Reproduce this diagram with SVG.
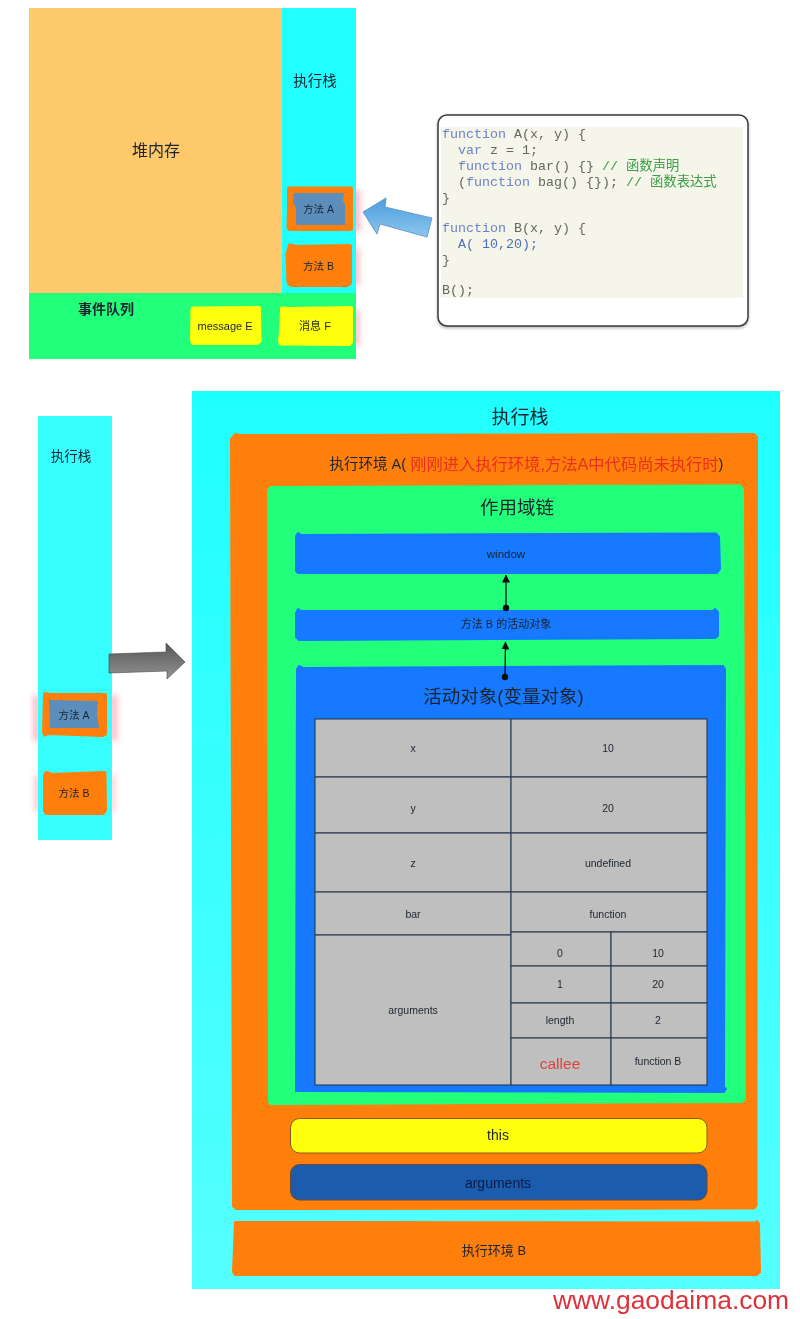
<svg xmlns="http://www.w3.org/2000/svg" width="800" height="1319" viewBox="0 0 800 1319">
<style>
text{font-family:"Liberation Sans","Noto Sans CJK SC",sans-serif;text-anchor:middle;dominant-baseline:central;fill:#1c2430}
.or{fill:#ff7f0a;stroke:#ff7f0a}.gr{fill:#22ff7a;stroke:#22ff7a}.bl{fill:#1279ff;stroke:#1279ff}.ye{fill:#ffff0e;stroke:#ffff0e}.st{fill:#5b8ebc}
.rnd{stroke-width:4;stroke-linejoin:round}
.big{stroke-width:2;stroke-linejoin:round}
.cell{fill:#bfbfbf;stroke:#2a3a50;stroke-width:1.1}
.gl{fill:#ff7080;opacity:.5;filter:url(#glow)}
.s10{font-size:10.5px}
.code{font-family:"Liberation Mono","Noto Sans CJK SC",monospace;font-size:13.33px;text-anchor:start;dominant-baseline:auto;fill:#666}
.kw{fill:#6a84c4}.cm{fill:#3aa046}.nm{fill:#4a70b8}
.red{fill:#e8301a}.wm{fill:#e0303a}.callee{fill:#e2403a}.navy{fill:#0a1c48}
.conn{stroke:#111;stroke-width:1.3;fill:none;marker-end:url(#ah)}
</style>
<defs>
<filter id="soft" x="0" y="0" width="100%" height="100%"><feGaussianBlur stdDeviation="0.45"/></filter>
<filter id="glow" x="-300%" y="-50%" width="700%" height="200%"><feGaussianBlur stdDeviation="3"/></filter>
<filter id="sh" x="-5%" y="-5%" width="110%" height="110%"><feDropShadow dx="0" dy="1.5" stdDeviation="1.5" flood-color="#000" flood-opacity=".3"/></filter>
<linearGradient id="ba" x1="0" y1="0" x2="0" y2="1"><stop offset="0" stop-color="#4a9ddc"/><stop offset="1" stop-color="#8fc6ee"/></linearGradient>
<linearGradient id="ga" x1="0" y1="0" x2="0" y2="1"><stop offset="0" stop-color="#565656"/><stop offset="1" stop-color="#939393"/></linearGradient>
<linearGradient id="cy" x1="0" y1="0" x2="0" y2="1"><stop offset="0" stop-color="#1fffff"/><stop offset="1" stop-color="#55ffff"/></linearGradient>
<marker id="ah" markerUnits="userSpaceOnUse" markerWidth="8" markerHeight="11" refX="7.5" refY="4" orient="auto"><path d="M0 0L8 4L0 8Z" fill="#111"/></marker>
</defs>
<rect width="800" height="1319" fill="#fff"/>
<g filter="url(#soft)">
<g id="glows">
<rect x="352" y="190" width="8" height="42" class="gl"/>
<rect x="352" y="248" width="7" height="38" class="gl"/>
<rect x="352" y="311" width="7" height="35" class="gl"/>
<rect x="33" y="695" width="7" height="46" class="gl"/><rect x="110" y="695" width="7" height="46" class="gl"/>
<rect x="35" y="775" width="5" height="37" class="gl"/><rect x="110" y="775" width="4" height="37" class="gl"/>
</g>
<g id="heap"><rect x="29" y="8" width="253" height="285" fill="#fdc96a"/><text x="156" y="150" font-size="16">堆内存</text></g>
<g id="stack-top"><rect x="282" y="8" width="74" height="285" fill="#22ffff"/><text x="315" y="81" font-size="14.5">执行栈</text></g>
<g id="queue"><rect x="29" y="293" width="327" height="66" fill="#22ff7a"/><text x="106" y="309" font-size="14" font-weight="bold">事件队列</text></g>
<g id="method-a-top">
<path class="or rnd" d="M289 188.500L351 188.500L351 229L290 229L288.500 228L289 205Z"/><path class="st" d="M294 193L344 193L343 201L345 205L345 225L296 225L296 208L293 203Z"/><text x="318.500" y="209" class="s10">方法 A</text></g>
<g id="method-b-top">
<path class="or rnd" d="M290 245.500L296 247L350 246L350 283L347 285L291 285L288.500 283L287.500 254Z"/><text x="318.500" y="266" class="s10">方法 B</text></g>
<g id="message-e"><path class="ye rnd" d="M192.500 308.500L259 308L259.500 341L257 343L193 343L192 340Z"/><text x="225" y="326" font-size="11">message E</text></g>
<g id="message-f">
<path class="ye rnd" d="M282 308.500L289 309L351 308L351 342L349 344L281 343.500L280 342L281.500 325Z"/><text x="315" y="326" font-size="11">消息 F</text></g>
<g id="code-box"><rect x="438" y="115" width="310" height="211" rx="9" fill="#fff" stroke="#3a3a3a" stroke-width="1.500" filter="url(#sh)"/>
<rect x="441" y="127" width="302" height="171" fill="#f5f5e9"/>
<text class="code" x="442" y="138" xml:space="preserve"><tspan class="kw">function</tspan> A(x, y) {</text>
<text class="code" x="442" y="154" xml:space="preserve">  <tspan class="kw">var</tspan> z = 1;</text>
<text class="code" x="442" y="170" xml:space="preserve">  <tspan class="kw">function</tspan> bar() {} <tspan class="cm">// 函数声明</tspan></text>
<text class="code" x="442" y="186" xml:space="preserve">  (<tspan class="kw">function</tspan> bag() {}); <tspan class="cm">// 函数表达式</tspan></text>
<text class="code" x="442" y="202">}</text>
<text class="code" x="442" y="232" xml:space="preserve"><tspan class="kw">function</tspan> B(x, y) {</text>
<text class="code" x="442" y="248" xml:space="preserve">  <tspan class="nm">A( 10,20);</tspan></text>
<text class="code" x="442" y="264">}</text>
<text class="code" x="442" y="294">B();</text></g>
<g id="stack-left"><rect x="38" y="416" width="74" height="424" fill="#38ffff"/><text x="71" y="456" font-size="13.500">执行栈</text></g>
<g id="method-a-left">
<path class="or rnd" d="M45 694L50 695L105 695L105 734L103 735L48 733L45 734.500L44 732Z"/><path class="st" d="M49 700L98 701L97 713L99 728L50 728Z"/><text x="74" y="715" class="s10">方法 A</text></g>
<g id="method-b-left">
<path class="or rnd" d="M46.500 773L52 775L104.500 773L105 810L103 813L46.500 813L45 811L45 775Z"/><text x="74" y="793" class="s10">方法 B</text></g>
<g id="stack-main"><rect x="192" y="391" width="588" height="898" fill="url(#cy)"/><text x="520" y="417" font-size="19">执行栈</text></g>
<g id="env-a"><path class="or big" d="M235 434L240 435L754 434L757 437L756.500 1206L754 1208.500L236 1209L233 1206L231 439Z"/>
<text x="526.500" y="464" font-size="14.500">执行环境 A( <tspan class="red" font-size="16.300">刚刚进入执行环境,方法A中代码尚未执行时</tspan>)</text></g>
<g id="scope-chain"><path class="gr big" d="M271 487L740 485.500L743 489L745 1099L742 1102L271 1104L269 1102L268 490Z"/><text x="517" y="507" font-size="18.500">作用域链</text></g>
<g id="window"><path class="bl big" d="M298 533L301 535L716 533.500L719 537L720 569L717 573L298 573L296 571L296 536Z"/><text x="506" y="554" font-size="11.500">window</text></g>
<g id="activation-b"><path class="bl big" d="M298 609L301 611L713 611L715 609L718 612L718 636L715 638L299 640L296 637L296 613Z"/><text x="506" y="624" font-size="11">方法 B 的活动对象</text></g>
<g id="activation-a"><path class="bl big" d="M299 666L303 668L723 666L725 669L724 1087L726 1089L724 1092L301 1091L296 1091L297 669Z"/><text x="503.500" y="696" font-size="18.500">活动对象(变量对象)</text></g>
<g id="var-table">
<rect class="cell" x="315" y="719" width="196" height="58"/><rect class="cell" x="511" y="719" width="196" height="58"/>
<rect class="cell" x="315" y="777" width="196" height="56"/><rect class="cell" x="511" y="777" width="196" height="56"/>
<rect class="cell" x="315" y="833" width="196" height="59"/><rect class="cell" x="511" y="833" width="196" height="59"/>
<rect class="cell" x="315" y="892" width="196" height="43"/><rect class="cell" x="511" y="892" width="196" height="40"/>
<rect class="cell" x="315" y="935" width="196" height="150"/>
<rect class="cell" x="511" y="932" width="100" height="34"/><rect class="cell" x="611" y="932" width="96" height="34"/>
<rect class="cell" x="511" y="966" width="100" height="37"/><rect class="cell" x="611" y="966" width="96" height="37"/>
<rect class="cell" x="511" y="1003" width="100" height="35"/><rect class="cell" x="611" y="1003" width="96" height="35"/>
<rect class="cell" x="511" y="1038" width="100" height="47"/><rect class="cell" x="611" y="1038" width="96" height="47"/>
<text class="s10" x="413" y="748">x</text><text class="s10" x="608" y="748">10</text>
<text class="s10" x="413" y="808">y</text><text class="s10" x="608" y="808">20</text>
<text class="s10" x="413" y="863">z</text><text class="s10" x="608" y="863">undefined</text>
<text class="s10" x="413" y="914">bar</text><text class="s10" x="608" y="914">function</text>
<text class="s10" x="413" y="1010">arguments</text>
<text class="s10" x="560" y="953">0</text><text class="s10" x="658" y="953">10</text>
<text class="s10" x="560" y="984">1</text><text class="s10" x="658" y="984">20</text>
<text class="s10" x="560" y="1020">length</text><text class="s10" x="658" y="1020">2</text>
<text class="callee" x="560" y="1063" font-size="15.500">callee</text><text class="s10" x="658" y="1061">function B</text>
</g>
<g id="this-bar"><rect x="290.500" y="1118.500" width="416.500" height="34.500" rx="9" fill="#ffff0e" stroke="#8a5a20"/><text x="498" y="1135" font-size="14">this</text></g>
<g id="arguments-bar"><rect x="290.500" y="1164.500" width="416.500" height="35.500" rx="9" fill="#1c5bac" stroke="#6a4a30"/><text class="navy" x="498" y="1183" font-size="14">arguments</text></g>
<g id="env-b"><path class="or big" d="M235 1222L755 1222.500L757 1221L759 1224L760 1272L757 1275L235 1275L233 1272Z"/><text x="494" y="1250" font-size="13">执行环境 B</text></g>
<g id="connectors">
<path d="M432 218L385 207L386 198L363 212L377 234L380 224L427 237Z" fill="url(#ba)" stroke="#4f8fc4" stroke-width=".8"/>
<path d="M109 654L166 652L166 643L185 662L167 679L167 671L109 673Z" fill="url(#ga)" stroke="#444" stroke-width=".6"/>
<path class="conn" d="M506 608V575"/><circle cx="506" cy="608" r="3.200" fill="#111"/>
<path class="conn" d="M505 677L505.500 642"/><circle cx="505" cy="677" r="3.200" fill="#111"/>
</g>
</g>
<text id="watermark" class="wm" x="671" y="1300" font-size="26.400">www.gaodaima.com</text>
</svg>
